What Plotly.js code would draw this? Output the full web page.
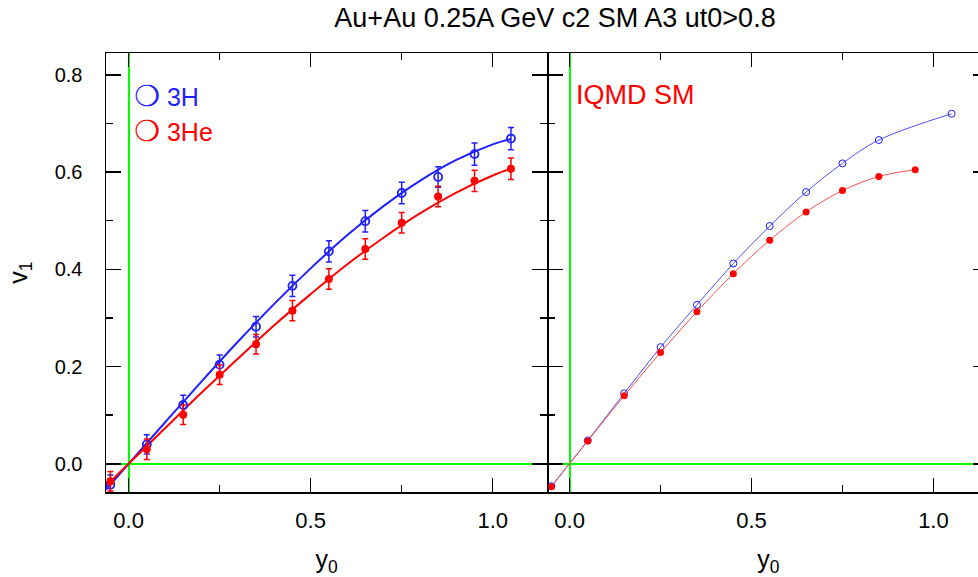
<!DOCTYPE html>
<html>
<head>
<meta charset="utf-8">
<script src="https://cdn.plot.ly/plotly-3.0.1.min.js"></script>
<style>
html,body{margin:0;padding:0;overflow:hidden;background:#fff;}
#chart{width:990px;height:577px;}
</style>
</head>
<body>
<div id="chart"></div>
<script>
// ---- Data ----
// Left panel: experimental points
const xExp    = [-0.05, 0.05, 0.15, 0.25, 0.35, 0.45, 0.55, 0.65, 0.75, 0.85, 0.95, 1.05];
const h3Exp   = [-0.043, 0.040, 0.121, 0.204, 0.282, 0.366, 0.437, 0.499, 0.557, 0.590, 0.637, 0.669];
const h3Err   = [0.020, 0.020, 0.020, 0.020, 0.021, 0.022, 0.022, 0.022, 0.022, 0.021, 0.023, 0.023];
const he3Exp  = [-0.036, 0.030, 0.101, 0.183, 0.246, 0.315, 0.380, 0.442, 0.496, 0.550, 0.582, 0.607];
const he3Err  = [0.020, 0.021, 0.020, 0.020, 0.020, 0.021, 0.021, 0.021, 0.021, 0.021, 0.022, 0.022];
// Left panel: fitted curves
const xFit    = [-0.062, 0.0, 0.1, 0.2, 0.3, 0.4, 0.5, 0.6, 0.7, 0.8, 0.9, 1.0, 1.05];
const h3Fit   = [-0.053, 0.0, 0.085, 0.169, 0.251, 0.329, 0.402, 0.470, 0.530, 0.582, 0.625, 0.657, 0.668];
const he3Fit  = [-0.046, 0.0, 0.073, 0.146, 0.216, 0.285, 0.349, 0.410, 0.465, 0.515, 0.558, 0.593, 0.607];
// Right panel: IQMD SM
const xSimH3  = [-0.05, 0.05, 0.15, 0.25, 0.35, 0.45, 0.55, 0.65, 0.75, 0.85, 1.05];
const h3Sim   = [-0.046, 0.048, 0.145, 0.240, 0.327, 0.412, 0.489, 0.559, 0.618, 0.666, 0.720];
const xSimHe3 = [-0.05, 0.05, 0.15, 0.25, 0.35, 0.45, 0.55, 0.65, 0.75, 0.85, 0.95];
const he3Sim  = [-0.047, 0.047, 0.140, 0.229, 0.313, 0.391, 0.460, 0.518, 0.562, 0.591, 0.605];

const xTicks = [0, 0.5, 1.0];
const yTicks = [0, 0.2, 0.4, 0.6, 0.8];
const titleText = "Au+Au 0.25A GeV c2 SM A3 ut0>0.8";

// ---- Styles ----
const BLUE = "#1f1fff", RED = "#ff0000", GREEN = "#00ff00";
const FONT = "Liberation Sans, Arial, Helvetica, sans-serif";

const traces = [
  {x: xFit, y: h3Fit, mode: "lines", line: {color: BLUE, width: 2, shape: "spline"}, xaxis: "x", yaxis: "y", hoverinfo: "skip"},
  {x: xFit, y: he3Fit, mode: "lines", line: {color: RED, width: 2, shape: "spline"}, xaxis: "x", yaxis: "y", hoverinfo: "skip"},
  {x: xExp, y: h3Exp, mode: "markers", marker: {symbol: "circle-open", size: 8, color: BLUE, line: {width: 1.8, color: BLUE}},
   error_y: {type: "data", array: h3Err, color: BLUE, thickness: 1.5, width: 3}, xaxis: "x", yaxis: "y"},
  {x: xExp, y: he3Exp, mode: "markers", marker: {symbol: "circle", size: 8, color: RED},
   error_y: {type: "data", array: he3Err, color: RED, thickness: 1.5, width: 3}, xaxis: "x", yaxis: "y"},
  {x: xSimH3, y: h3Sim, mode: "lines+markers", line: {color: "#5050ff", width: 1, shape: "spline"},
   marker: {symbol: "circle-open", size: 7, color: BLUE, line: {width: 1, color: BLUE}}, xaxis: "x2", yaxis: "y2"},
  {x: xSimHe3, y: he3Sim, mode: "lines+markers", line: {color: "#ff5050", width: 1, shape: "spline"},
   marker: {symbol: "circle", size: 7, color: RED}, xaxis: "x2", yaxis: "y2"}
];

const xCommon = {
  tickvals: xTicks, tickformat: ".1f",
  ticks: "inside", ticklen: 14, tickwidth: 1.5, tickcolor: "#000",
  minor: {dtick: 0.25, tick0: 0, ticks: "inside", ticklen: 7, tickwidth: 1.5, tickcolor: "#000"},
  showline: true, linecolor: "#000", linewidth: 1.5, mirror: "ticks",
  showgrid: false, zeroline: true, zerolinecolor: GREEN, zerolinewidth: 2,
  tickfont: {family: FONT, size: 22, color: "#000"}, ticklabelstandoff: 8,
  title: {text: "y<sub>0</sub>", font: {family: FONT, size: 25, color: "#000"}, standoff: 18}
};
const yCommon = {
  range: [-0.058, 0.845], tickvals: yTicks, tickformat: ".1f",
  ticks: "inside", ticklen: 15, tickwidth: 1.5, tickcolor: "#000",
  minor: {dtick: 0.1, tick0: 0, ticks: "inside", ticklen: 7, tickwidth: 1.5, tickcolor: "#000"},
  showline: true, linecolor: "#000", linewidth: 1.5, mirror: "ticks",
  showgrid: false, zeroline: true, zerolinecolor: GREEN, zerolinewidth: 2,
  tickfont: {family: FONT, size: 20, color: "#000"}
};

const layout = {
  width: 990, height: 577,
  margin: {l: 106, r: 2, t: 53, b: 85},
  paper_bgcolor: "#fff", plot_bgcolor: "#fff",
  showlegend: false,
  title: {text: titleText, font: {family: FONT, size: 27, color: "#000"},
          xref: "container", x: 555/990, xanchor: "center", yref: "container", y: 1 - 18/577, yanchor: "middle"},
  xaxis: Object.assign({}, xCommon, {domain: [0, 0.5], anchor: "y", range: [-0.062, 1.149]}),
  xaxis2: Object.assign({}, xCommon, {domain: [0.5017, 1], anchor: "y2", range: [-0.058, 1.150]}),
  yaxis: Object.assign({}, yCommon, {domain: [0, 1], anchor: "x", ticklabelstandoff: 18,
          title: {text: "v<sub>1</sub>", font: {family: FONT, size: 25, color: "#000"}, standoff: 20}}),
  yaxis2: Object.assign({}, yCommon, {domain: [0, 1], anchor: "x2", matches: "y", showticklabels: false}),
  annotations: [
    {xref: "paper", yref: "paper", x: 0.030, y: 0.902, xanchor: "left", yanchor: "middle", showarrow: false,
     text: "<span style='font-family:DejaVu Sans;font-size:29px'>❍</span> 3H", font: {family: FONT, size: 25, color: BLUE}},
    {xref: "paper", yref: "paper", x: 0.030, y: 0.822, xanchor: "left", yanchor: "middle", showarrow: false,
     text: "<span style='font-family:DejaVu Sans;font-size:29px'>❍</span> 3He", font: {family: FONT, size: 25, color: RED}},
    {xref: "paper", yref: "paper", x: 0.531, y: 0.904, xanchor: "left", yanchor: "middle", showarrow: false,
     text: "IQMD SM", font: {family: FONT, size: 27, color: RED}}
  ]
};

Plotly.newPlot("chart", traces, layout, {displayModeBar: false, staticPlot: true});
</script>
</body>
</html>
